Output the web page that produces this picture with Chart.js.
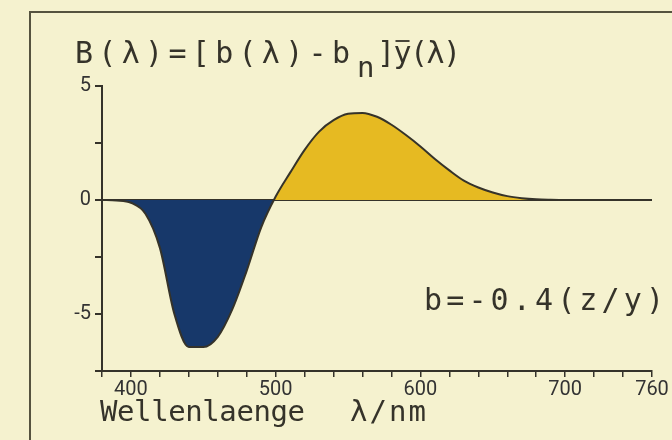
<!DOCTYPE html>
<html>
<head>
<meta charset="utf-8">
<script src="https://cdn.jsdelivr.net/npm/chart.js@4"></script>
<style>
html, body { margin: 0; padding: 0; background: #f5f2cf; }
#wrap { width: 672px; height: 440px; }
</style>
</head>
<body>
<div id="wrap"><canvas id="bChart" width="672" height="440"></canvas></div>
<script>
// wavelength in nm and B(lambda)
const wavelengths = [380, 390, 400, 410, 420, 430, 440, 450, 460, 470, 480, 490, 500,
  510, 520, 530, 540, 550, 560, 570, 580, 590, 600, 610, 620, 630, 640, 650, 660,
  670, 680, 690, 700, 710, 720, 730, 740, 750, 760];
const bValues = [0, -0.02, -0.12, -0.6, -2.1, -5.0, -6.45, -6.45, -6.0, -4.8, -3.1, -1.2, 0.15,
  1.2, 2.2, 3.0, 3.5, 3.78, 3.82, 3.65, 3.3, 2.85, 2.35, 1.8, 1.3, 0.85, 0.55, 0.33, 0.17,
  0.08, 0.03, 0.01, 0, 0, 0, 0, 0, 0, 0];
const xTickLabels = [400, 500, 600, 700, 760];
const yTickLabels = [5, 0, -5];

const ink = '#35332a';
const bg = '#f5f2cf';
const blue = '#17386a';
const yellow = '#e6ba22';

const points = wavelengths.map((w, i) => ({x: w, y: bValues[i]}));

// draw a string spread out to a given width, like the plotter lettering
function spread(ctx, str, x, y, width, size) {
  ctx.font = size + 'px "DejaVu Sans Mono"';
  const chars = Array.from(str);
  const widths = chars.map(c => ctx.measureText(c).width);
  const natural = widths.reduce((a, b) => a + b, 0);
  const gap = chars.length > 1 ? (width - natural) / (chars.length - 1) : 0;
  const pos = [];
  let cx = x;
  chars.forEach((c, i) => {
    ctx.fillText(c, cx, y);
    pos.push([cx, widths[i]]);
    cx += widths[i] + gap;
  });
  return pos;
}

const decor = {
  id: 'decor',
  beforeDraw(chart) {
    const ctx = chart.ctx;
    ctx.save();
    ctx.fillStyle = bg;
    ctx.fillRect(0, 0, chart.width, chart.height);
    ctx.restore();
  },
  afterDraw(chart) {
    const ctx = chart.ctx;
    ctx.save();
    // frame
    ctx.strokeStyle = '#55533f';
    ctx.lineWidth = 2;
    ctx.strokeRect(30, 12, 800, 600);
    ctx.fillStyle = ink;
    ctx.strokeStyle = ink;
    ctx.textBaseline = 'alphabetic';
    ctx.textAlign = 'left';
    // formula on top
    spread(ctx, 'B(λ)=[b(λ)-b', 75, 63, 275, 30);
    spread(ctx, 'n', 357, 77, 16, 29);
    const p = spread(ctx, ']y(λ)', 377, 63, 84, 30);
    ctx.lineWidth = 1.8;
    ctx.beginPath();
    ctx.moveTo(p[1][0] + 2, 41);
    ctx.lineTo(p[1][0] + p[1][1] - 2, 41);
    ctx.stroke();
    // parameter note
    spread(ctx, 'b=-0.4(z/y)', 424, 310, 240, 30);
    // x title
    spread(ctx, 'Wellenlaenge', 100, 421, 205, 29);
    spread(ctx, 'λ/nm', 350, 421, 76, 29);
    ctx.restore();
  }
};

new Chart('bChart', {
  type: 'line',
  data: {
    datasets: [{
      data: points,
      borderColor: ink,
      borderWidth: 2,
      pointRadius: 0,
      cubicInterpolationMode: 'monotone',
      fill: {target: {value: 0}, above: yellow, below: blue}
    }]
  },
  plugins: [decor],
  options: {
    responsive: false,
    animation: false,
    layout: {padding: {left: 0, right: 20, top: 86, bottom: 0}},
    plugins: {legend: {display: false}, tooltip: {enabled: false}},
    scales: {
      x: {
        type: 'linear',
        min: 380,
        max: 760,
        afterFit: s => { s.height = 69; },
        border: {color: ink, width: 2},
        grid: {drawOnChartArea: false, tickLength: 6, tickColor: ink, lineWidth: 1.5},
        ticks: {
          stepSize: 20,
          padding: 1,
          color: '#333',
          font: {family: 'Roboto', size: 20},
          maxRotation: 0,
          autoSkip: false,
          callback: v => xTickLabels.includes(v) ? String(v) : ''
        }
      },
      y: {
        min: -7.5,
        max: 5,
        afterFit: s => { s.width = 102; },
        border: {color: ink, width: 2},
        grid: {
          tickLength: 7,
          tickColor: ink,
          lineWidth: 2,
          color: c => c.tick && c.tick.value === 0 ? ink : 'rgba(0,0,0,0)'
        },
        ticks: {
          stepSize: 2.5,
          padding: 4,
          color: '#333',
          font: {family: 'Roboto', size: 20},
          callback: v => yTickLabels.includes(v) ? String(v) : ''
        }
      }
    }
  }
});
</script>
</body>
</html>
